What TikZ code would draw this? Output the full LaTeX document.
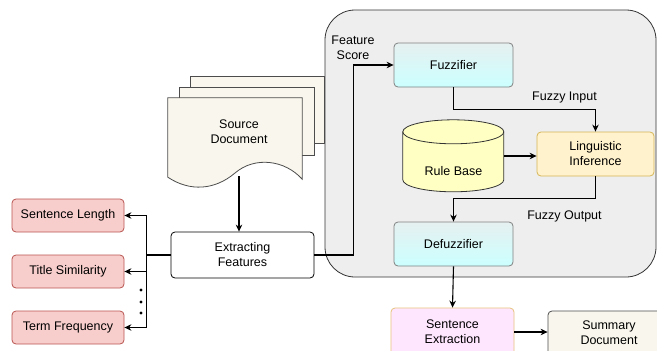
\documentclass[tikz,border=0pt]{standalone}
\usepackage{fontspec}
\setmainfont{Liberation Sans}
\usepackage{tikz}
\usetikzlibrary{arrows.meta}
\usepackage{color}

\definecolor{panelgrey}{HTML}{EEEEEE}
\definecolor{featfill}{HTML}{F8CECC}
\definecolor{featdraw}{HTML}{B85450}
\definecolor{fuzztop}{HTML}{E6F0F0}
\definecolor{fuzzbot}{HTML}{CCFFFF}
\definecolor{rulefill}{HTML}{FFFFC4}
\definecolor{lingfill}{HTML}{FFF2CC}
\definecolor{lingdraw}{HTML}{D6B656}
\definecolor{extrfill}{HTML}{FFE6FF}
\definecolor{extrdraw}{HTML}{E6C27A}
\definecolor{paper}{HTML}{F9F7ED}

\tikzset{
	txt/.style={font=\fontsize{12.5}{15}\selectfont,align=center,inner sep=0pt},
	box/.style={txt,draw,rounded corners=4,line width=0.8pt},
	featbox/.style={box,fill=featfill,draw=featdraw,minimum width=112,minimum height=33},
	fuzzbox/.style={box,top color=fuzztop,bottom color=fuzzbot,draw=black!50,minimum width=119,minimum height=44},
	conn/.style={line width=1.1pt},
	arr/.style={conn,-{Stealth[length=7pt,width=6.5pt]}}
}

\begin{document}
\begin{tikzpicture}[x=1pt,y=-1pt]
	\useasboundingbox (0,0) rectangle (657,351);
	\clip (0,0) rectangle (657,351);
	\node[draw=black!80,fill=panelgrey,rounded corners=30,line width=0.8pt,minimum width=331,minimum height=267] (panel) at (490.5,143.5) {};

	\filldraw[fill=paper,draw=black!70,line width=0.8pt] (190,76) rectangle (324,143);
	\filldraw[fill=paper,draw=black!70,line width=0.8pt] (179,87) rectangle (314,155);
	\node[txt,minimum width=134,minimum height=78] (srcdoc) at (235,137) {};
	\filldraw[fill=paper,draw=black!70,line width=0.8pt] (srcdoc.north west) -- (srcdoc.north east) -- ([yshift=-3]srcdoc.south east)
		.. controls (285,160) and (255,156) .. (235,173)
		.. controls (215,190) and (190,192) .. ([yshift=-1]srcdoc.south west) -- cycle;
	\node[txt] (srctext) at (239,132) {Source\\Document};

	\node[box,fill=white,minimum width=143,minimum height=46] (extract) at (242.5,255) {Extracting\\Features};

	\node[featbox] (sentlen) at (68,215.5) {Sentence Length};
	\node[featbox] (titlesim) at (68,271.5) {Title Similarity};
	\node[featbox] (termfreq) at (68,327.5) {Term Frequency};

	\node[fuzzbox] (fuzzifier) at (453.5,65) {Fuzzifier};
	\node[fuzzbox] (defuzzifier) at (453.5,244) {Defuzzifier};
	\node[box,fill=lingfill,draw=lingdraw,minimum width=117,minimum height=44] (linguistic) at (595.5,154) {Linguistic\\Inference};

	\node[minimum width=101,minimum height=72,inner sep=0pt] (rulebase) at (453.5,156) {};
	\filldraw[fill=rulefill,draw=black!80,line width=0.8pt] (rulebase.north west) ++(0,12) -- ++(0,48) arc[start angle=180,end angle=0,x radius=50.5,y radius=12] -- ++(0,-48) arc[start angle=0,end angle=-180,x radius=50.5,y radius=12] -- cycle;
	\draw[draw=black!80,line width=0.8pt] (rulebase.north west) ++(0,12) arc[start angle=180,end angle=0,x radius=50.5,y radius=12];
	\node[txt] (rbtext) at (453.5,171) {Rule Base};

	\node[box,fill=extrfill,draw=extrdraw,minimum width=123,minimum height=48] (sentext) at (452.5,332) {Sentence\\Extraction};
	\node[box,fill=paper,draw=black!70,minimum width=122,minimum height=44] (summary) at (609,333) {Summary\\Document};

	\node[txt] (fuzzin) at (564.5,97) {Fuzzy Input};
	\node[txt] (fuzzout) at (564.5,216) {Fuzzy Output};
	\node[txt] (featscore) at (353,48) {Feature\\Score};

	\draw[arr] ([xshift=4]srcdoc.south) -- ([xshift=4]srcdoc.south |- extract.north);
	\draw[arr] (extract.east) -- ++(39,0) |- (fuzzifier.west);
	\draw[conn] (extract.west) -- ++(-24,0) coordinate (fork);
	\draw[arr] (fork) |- (sentlen.east);
	\draw[arr] (fork) |- (titlesim.east);
	\draw[arr] (fork) |- (termfreq.east);
	\fill (141,290) circle (1.6) (141,302) circle (1.6) (141,313) circle (1.6);

	\draw[arr] (fuzzifier.south) -- ++(0,22) -| (linguistic.north);
	\draw[arr] (rulebase.east) -- (rulebase.east -| linguistic.west);
	\draw[arr] (linguistic.south) -- ++(0,22) -| (defuzzifier.north);
	\draw[arr] (defuzzifier.south) -- (sentext.north);
	\draw[arr] (sentext.east) -- (sentext.east -| summary.west);
\end{tikzpicture}
\end{document}
